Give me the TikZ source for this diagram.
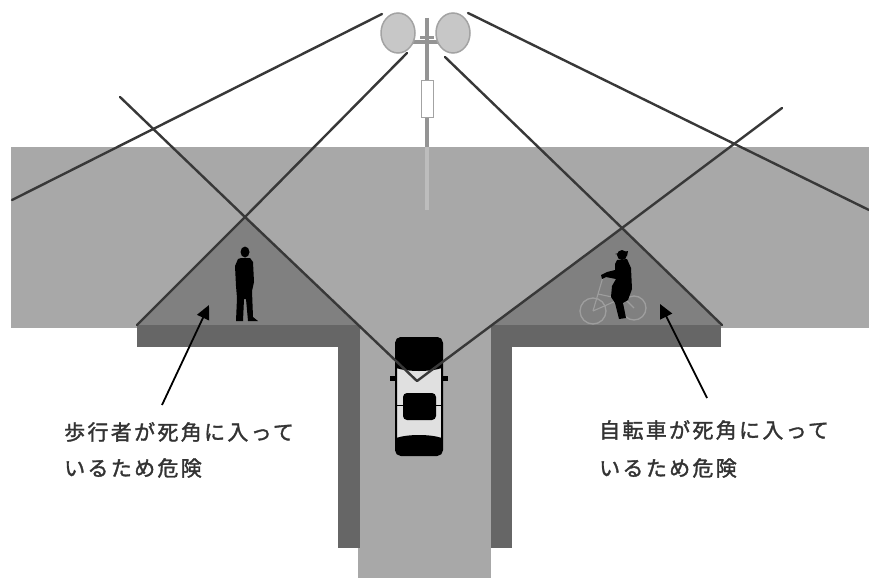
\documentclass[tikz,border=0pt]{standalone}
\usepackage{fontspec}
\newfontfamily\jp[LetterSpace=11, FakeBold=1.6]{Noto Sans CJK JP}
\usetikzlibrary{arrows.meta}
\definecolor{road}{gray}{0.66}
\definecolor{blind}{gray}{0.50}
\definecolor{curb}{gray}{0.40}
\definecolor{sight}{gray}{0.22}
\definecolor{pole}{gray}{0.58}
\definecolor{polelight}{gray}{0.74}
\definecolor{mirrorfill}{gray}{0.78}
\definecolor{mirrorline}{gray}{0.64}
\definecolor{wheel}{gray}{0.62}
\definecolor{txt}{gray}{0.2}
\tikzset{
  sightline/.style={draw=sight, line width=2.4pt, line cap=round},
  label/.style={font=\jp\fontsize{21}{25}\selectfont, text=txt, anchor=west, inner sep=0pt},
  pointer/.style={draw=black, line width=1.8pt, -{Triangle[length=14pt,width=13pt]}},
  mirror/.style={fill=mirrorfill, draw=mirrorline, line width=1.5pt},
}
\begin{document}
\begin{tikzpicture}[x=1pt,y=-1pt]
\useasboundingbox (0,0) rectangle (869,578);
\fill[white] (0,0) rectangle (869,578);
% roads
\fill[road] (11,147) rectangle (869,328);
\fill[road] (358,325) rectangle (491,578);
% key points
\coordinate (mA) at (382,14);
\coordinate (mB) at (407,53);
\coordinate (mD) at (468,13);
\coordinate (mE) at (445,57);
\coordinate (endA) at (12,200);
\coordinate (endD) at (869,210);
\coordinate (startC) at (120,97);
\coordinate (startF) at (782,108);
\coordinate (eye) at (417,381);
\coordinate (apexL) at (245,217);
\coordinate (apexR) at (622,228);
\coordinate (baseL1) at (137,325);
\coordinate (baseL2) at (358,325);
\coordinate (baseR1) at (493,325);
\coordinate (baseR2) at (722,325);
% blind spots
\fill[blind] (apexL) -- (baseL1) -- (baseL2) -- cycle;
\fill[blind] (apexR) -- (baseR1) -- (baseR2) -- cycle;
% curbs
\fill[curb] (137,325) rectangle (360,347);
\fill[curb] (338,325) rectangle (360,548);
\fill[curb] (491,325) rectangle (721,347);
\fill[curb] (491,325) rectangle (512,548);
% pedestrian
\fill[black] (245,252) ellipse [x radius=4.5, y radius=5.5];
\fill[black] (241,258) -- (250,258) -- (253,262) -- (254,282) -- (252,291) -- (253,317) -- (258,321) -- (248,321) -- (246,299) -- (244,299) -- (243,321) -- (236,321) -- (237,298) -- (236,286) -- (235,266) -- (238,259) -- cycle;
% bicycle
\draw[wheel, line width=1.3pt] (593,311) circle [radius=13];
\draw[wheel, line width=1.3pt] (634,308) circle [radius=12];
\draw[wheel, line width=1.1pt] (593,311) -- (603,277) (598,294) -- (626,300) -- (634,308) (626,300) -- (618,288) (593,311) -- (618,300);
\fill[black] (622,255) ellipse [x radius=5, y radius=5];
\fill[black] (615,254) -- (628,251) -- (627,256) -- cycle;
\fill[black] (617,260) -- (627,259) -- (631,268) -- (632,289) -- (628,300) -- (623,303) -- (626,318) -- (619,319) -- (615,303) -- (611,297) -- (612,286) -- (616,279) -- (606,277) -- (602,279) -- (601,275) -- (607,272) -- (615,270) -- (615,264) -- cycle;
% car
\filldraw[fill=white!88!black, draw=black, line width=2pt, rounded corners=5pt] (396,338) rectangle (442,455);
\fill[black, rounded corners=5pt] (396,337) rectangle (442,366);
\fill[black] (396,360) -- (442,360) -- (442,368) .. controls (430,372) and (408,372) .. (396,368) -- cycle;
\fill[black, rounded corners=4pt] (403,393) rectangle (436,420);
\fill[black, rounded corners=5pt] (396,440) rectangle (442,455);
\fill[black] (396,444) -- (396,438) .. controls (408,434) and (430,434) .. (442,438) -- (442,444) -- cycle;
\fill[black] (390,376) rectangle (396,381);
\fill[black] (442,376) rectangle (448,381);
\draw[black, line width=0.8pt] (396,405) -- (403,405) (436,405) -- (442,405);
% sight lines
\draw[sightline] (mA) -- (endA);
\draw[sightline] (mB) -- (apexL) -- (baseL1);
\draw[sightline] (startC) -- (apexL) -- (eye);
\draw[sightline] (mD) -- (endD);
\draw[sightline] (mE) -- (apexR) -- (baseR2);
\draw[sightline] (startF) -- (apexR) -- (eye);
% pole
\draw[pole, line width=4pt] (427,18) -- (427,147);
\draw[polelight, line width=4pt] (427,147) -- (427,210);
\filldraw[fill=white, draw=mirrorline, line width=1pt] (421,80) rectangle (433,117);
\draw[pole, line width=4pt] (413,42) -- (441,42);
\draw[pole, line width=3pt] (420,38) -- (434,38);
% mirrors
\filldraw[mirror] (398,33) ellipse [x radius=17, y radius=20];
\filldraw[mirror] (453,33) ellipse [x radius=17, y radius=20];
% labels
\node[label] (l1) at (64,432) {歩行者が死角に入って};
\node[label] (l2) at (64,468) {いるため危険};
\node[label] (r1) at (599,430) {自転車が死角に入って};
\node[label] (r2) at (599,468) {いるため危険};
\coordinate (pL) at (162,405);
\coordinate (pLt) at (209,305);
\coordinate (pR) at (707,398);
\coordinate (pRt) at (660,304);
\draw[pointer] (pL) -- (pLt);
\draw[pointer] (pR) -- (pRt);
\end{tikzpicture}
\end{document}
